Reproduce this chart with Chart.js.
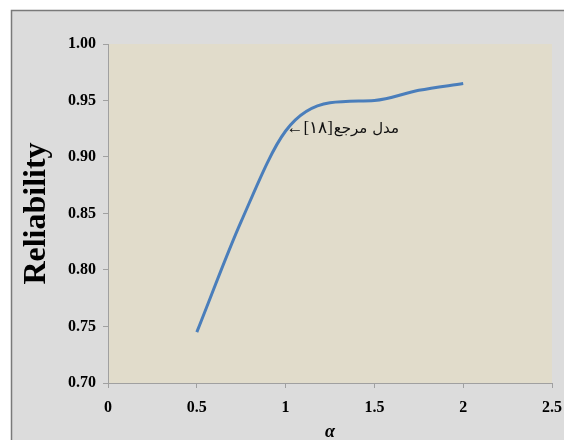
<!DOCTYPE html>
<html>
<head>
<meta charset="utf-8">
<script src="https://cdn.jsdelivr.net/npm/chart.js@4"></script>
<style>
html,body{margin:0;padding:0;background:#ffffff;}
#wrap{position:relative;width:564px;height:440px;}
</style>
</head>
<body>
<div id="wrap"><canvas id="c" width="564" height="440"></canvas></div>
<script>
// Data
const alphaValues = [0.5, 0.75, 1.0, 1.25, 1.5, 1.75, 2.0];
const reliabilityValues = [0.745, 0.843, 0.923, 0.948, 0.950, 0.959, 0.965];
const xTickLabels = ["0", "0.5", "1", "1.5", "2", "2.5"];
const yTickLabels = ["0.70", "0.75", "0.80", "0.85", "0.90", "0.95", "1.00"];
const annotationText = "مدل مرجع";
const annotationRef = "←[۱۸]";
const annotationPoint = [1.005, 0.9257];

const points = alphaValues.map((a, i) => ({x: a, y: reliabilityValues[i]}));

const framePlugin = {
  id: 'frame',
  beforeDraw(chart) {
    const ctx = chart.ctx;
    const a = chart.chartArea;
    ctx.save();
    ctx.fillStyle = '#ffffff';
    ctx.fillRect(0, 0, chart.width, chart.height);
    ctx.fillStyle = '#dcdcdc';
    ctx.fillRect(11, 10, chart.width, chart.height);
    ctx.strokeStyle = '#7a7a7a';
    ctx.lineWidth = 1.5;
    ctx.beginPath();
    ctx.moveTo(11.5, chart.height);
    ctx.lineTo(11.5, 10.5);
    ctx.lineTo(chart.width, 10.5);
    ctx.stroke();
    ctx.fillStyle = '#e1dccb';
    ctx.fillRect(a.left, a.top, a.right - a.left, a.bottom - a.top);
    ctx.restore();
  },
  afterDatasetsDraw(chart) {
    const ctx = chart.ctx;
    const xs = chart.scales.x, ys = chart.scales.y;
    const px = xs.getPixelForValue(annotationPoint[0]);
    const py = ys.getPixelForValue(annotationPoint[1]);
    ctx.save();
    ctx.fillStyle = '#111111';
    ctx.textBaseline = 'middle';
    ctx.font = '17px "Liberation Serif", "DejaVu Serif", serif';
    ctx.textAlign = 'left';
    ctx.direction = 'ltr';
    const refW = ctx.measureText(annotationRef).width;
    ctx.fillText(annotationRef, px, py + 1);
    ctx.font = '15px "DejaVu Sans", "Noto Sans", sans-serif';
    ctx.direction = 'rtl';
    ctx.textAlign = 'left';
    ctx.fillText(annotationText, px + refW + 1, py + 1);
    ctx.restore();
  }
};

new Chart(document.getElementById('c'), {
  type: 'line',
  data: {
    datasets: [{
      data: points,
      borderColor: '#4a7ebb',
      borderWidth: 3,
      pointRadius: 0,
      fill: false,
      cubicInterpolationMode: 'monotone'
    }]
  },
  options: {
    responsive: false,
    animation: false,
    plugins: { legend: {display: false}, tooltip: {enabled: false} },
    layout: { padding: {left: 0, top: 44, right: 12, bottom: 0} },
    scales: {
      x: {
        type: 'linear',
        min: 0, max: 2.5,
        afterFit(s) { s.height = 57; s.paddingRight = 0; s.paddingLeft = 0; },
        afterBuildTicks(s) { s.ticks = xTickLabels.map(v => ({value: parseFloat(v)})); },
        ticks: {
          padding: 10,
          color: '#000000',
          font: {family: '"Liberation Serif", serif', size: 16, weight: 'bold'},
          callback: (v, i) => xTickLabels[i]
        },
        grid: { drawOnChartArea: false, drawTicks: true, tickLength: 5, color: '#a0a0a0' },
        border: { color: '#a0a0a0', width: 1 },
        title: {
          display: true, text: 'α', color: '#000000',
          font: {family: '"Liberation Serif", serif', size: 18, weight: 'bold', style: 'italic', lineHeight: 0.9},
          padding: {top: 0, bottom: 0}
        }
      },
      y: {
        min: 0.7, max: 1.0,
        afterFit(s) { s.width = 108; s.paddingTop = 0; s.paddingBottom = 0; },
        afterBuildTicks(s) { s.ticks = yTickLabels.map(v => ({value: parseFloat(v)})); },
        ticks: {
          padding: 7,
          color: '#000000',
          font: {family: '"Liberation Serif", serif', size: 16, weight: 'bold'},
          callback: (v, i) => yTickLabels[i]
        },
        grid: { drawOnChartArea: false, drawTicks: true, tickLength: 5, color: '#a0a0a0' },
        border: { color: '#a0a0a0', width: 1 },
        title: {
          display: true, text: 'Reliability', color: '#000000',
          font: {family: '"Liberation Serif", serif', size: 32, weight: 'bold'},
          padding: {top: 18, bottom: 0}
        }
      }
    }
  },
  plugins: [framePlugin]
});
</script>
</body>
</html>
